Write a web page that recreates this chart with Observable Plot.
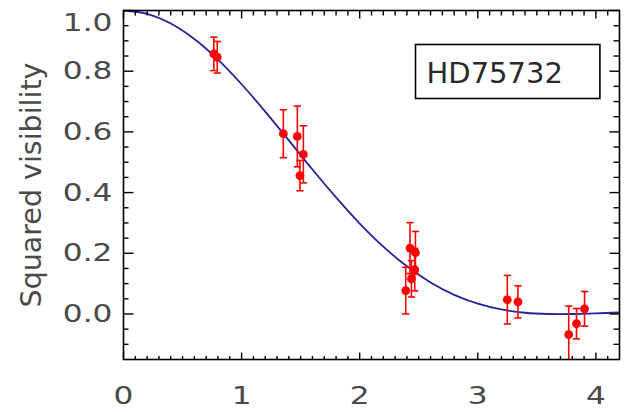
<!DOCTYPE html>
<html>
<head>
<meta charset="utf-8">
<script src="https://cdn.jsdelivr.net/npm/d3@7"></script>
<script src="https://cdn.jsdelivr.net/npm/@observablehq/plot@0.6"></script>
<style>
  html, body { margin: 0; padding: 0; background: #fff; }
  #chart svg { display: block; }
</style>
</head>
<body>
<div id="chart"></div>
<script>
// ---- data ----
const baseline = [0.765, 0.794, 1.353, 1.472, 1.523, 1.494, 2.39, 2.426, 2.472, 2.466, 2.438, 3.25, 3.34, 3.77, 3.836, 3.904];
const v2       = [0.857, 0.846, 0.594, 0.585, 0.526, 0.456, 0.077, 0.217, 0.202, 0.146, 0.116, 0.047, 0.040, -0.068, -0.032, 0.017];
const v2err    = [0.055, 0.052, 0.079, 0.100, 0.094, 0.050, 0.077, 0.084, 0.070, 0.070, 0.060, 0.080, 0.053, 0.094, 0.050, 0.057];

// model curve at regular steps
const modelX = [0, 0.2, 0.4, 0.6, 0.8, 1.0, 1.2, 1.4, 1.6, 1.8, 2.0, 2.2, 2.4, 2.6, 2.8, 3.0, 3.2, 3.4, 3.6, 3.8, 4.0, 4.2];
const modelY = [1.0, 0.989, 0.957, 0.906, 0.838, 0.757, 0.667, 0.572, 0.476, 0.384, 0.298, 0.222, 0.157, 0.104, 0.063, 0.034, 0.015, 0.004, 0.0, 0.0, 0.002, 0.005];

const xTicks = [0, 1, 2, 3, 4];
const xTickLabels = ["0", "1", "2", "3", "4"];
const yTicks = [0.0, 0.2, 0.4, 0.6, 0.8, 1.0];
const yTickLabels = ["0.0", "0.2", "0.4", "0.6", "0.8", "1.0"];
const starName = "HD75732";
const yLabel = "Squared visibility";

// ---- build tables ----
const points = baseline.map((x, i) => ({x, y: v2[i], e: v2err[i]}));
const model = modelX.map((x, i) => ({x, y: modelY[i]}));
const xMinor = d3.range(1, 42).map(d => d / 10).filter(d => Math.abs(d - Math.round(d)) > 1e-9);
const yMinor = d3.range(-2, 20).map(d => d * 0.05).filter(d => Math.abs(d * 5 - Math.round(d * 5)) > 1e-9);
const yLab = yTicks.map((t, i) => ({t, label: yTickLabels[i]}));
const xLab = xTicks.map((t, i) => ({t, label: xTickLabels[i]}));

// segment symbol for tick marks / error caps
const seg = (x1, y1, x2, y2) => ({draw(ctx) { ctx.moveTo(x1, y1); ctx.lineTo(x2, y2); }});

const font = "DejaVu Sans, sans-serif";
const grey = "#4a4a4a";
const tickStyle = {r: 3, stroke: "#000", strokeWidth: 1.4, fill: "none"};

const chart = Plot.plot({
  width: 642,
  height: 412,
  marginLeft: 123,
  marginRight: 23,
  marginTop: 10,
  marginBottom: 53,
  style: {fontFamily: font, background: "#fff", overflow: "visible"},
  x: {domain: [0, 4.2], axis: null},
  y: {domain: [-0.15, 1.0], axis: null},
  marks: [
    // model curve
    Plot.line(model, {x: "x", y: "y", curve: "catmull-rom", stroke: "#24249c", strokeWidth: 1.8, clip: true}),
    // error bars
    Plot.ruleX(points, {x: "x", y1: d => d.y - d.e, y2: d => d.y + d.e, stroke: "#f00", strokeWidth: 1.6, clip: true}),
    Plot.dot(points, {x: "x", y: d => d.y + d.e, symbol: seg(-3.6, 0, 3.6, 0), r: 3, stroke: "#f00", strokeWidth: 1.6, fill: "none", clip: true}),
    Plot.dot(points, {x: "x", y: d => d.y - d.e, symbol: seg(-3.6, 0, 3.6, 0), r: 3, stroke: "#f00", strokeWidth: 1.6, fill: "none", clip: true}),
    // data points
    Plot.dot(points, {x: "x", y: "y", r: 4.4, fill: "#f00", stroke: "none"}),
    // frame
    Plot.frame({stroke: "#000", strokeWidth: 1.6}),
    // ticks: left/right (major + minor)
    Plot.dot(yTicks, {y: d => d, frameAnchor: "left", symbol: seg(0, 0, 10, 0), ...tickStyle}),
    Plot.dot(yMinor, {y: d => d, frameAnchor: "left", symbol: seg(0, 0, 5, 0), ...tickStyle}),
    Plot.dot(yTicks, {y: d => d, frameAnchor: "right", symbol: seg(0, 0, -10, 0), ...tickStyle}),
    Plot.dot(yMinor, {y: d => d, frameAnchor: "right", symbol: seg(0, 0, -6, 0), ...tickStyle}),
    // ticks: bottom/top
    Plot.dot(xTicks, {x: d => d, frameAnchor: "bottom", symbol: seg(0, 0, 0, -7), ...tickStyle}),
    Plot.dot(xMinor, {x: d => d, frameAnchor: "bottom", symbol: seg(0, 0, 0, -3.5), ...tickStyle}),
    Plot.dot(xTicks, {x: d => d, frameAnchor: "top", symbol: seg(0, 0, 0, 8), ...tickStyle}),
    Plot.dot(xMinor, {x: d => d, frameAnchor: "top", symbol: seg(0, 0, 0, 5), ...tickStyle}),
    // y tick labels (top label sits below its tick, as in the original)
    Plot.text(yLab.filter(d => d.t < 1), {y: "t", text: "label", frameAnchor: "left", dx: -11, textAnchor: "end", lineAnchor: "middle", fontSize: 25, fill: grey, className: "widen"}),
    Plot.text(yLab.filter(d => d.t >= 1), {y: "t", text: "label", frameAnchor: "left", dx: -11, dy: 12.5, textAnchor: "end", lineAnchor: "middle", fontSize: 25, fill: grey, className: "widen"}),
    // x tick labels
    Plot.text(xLab, {x: "t", text: "label", frameAnchor: "bottom", dy: 27, lineAnchor: "top", fontSize: 25, fill: grey, className: "widen"}),
    // y axis label
    Plot.text([yLabel], {text: d => d, frameAnchor: "left", dx: -83, rotate: -90, textAnchor: "middle", lineAnchor: "bottom", fontSize: 28.5, fill: grey}),
    // star name
    Plot.text([starName], {text: d => d, frameAnchor: "top-right", dx: -193, dy: 72, textAnchor: "start", lineAnchor: "bottom", fontSize: 29, fill: "#2a2a2a", className: "starlabel"})
  ]
});

document.getElementById("chart").appendChild(chart);

// the original's tick-label font is wider than DejaVu: stretch horizontally about each anchor
chart.querySelectorAll(".widen text").forEach(el => {
  const tr = el.getAttribute("transform") || "";
  const x = el.getAttribute("x"), y = el.getAttribute("y");
  if (tr) el.setAttribute("transform", tr + " scale(1.25,1)");
  else {
    el.setAttribute("transform", `translate(${x || 0},${y || 0}) scale(1.25,1)`);
    el.removeAttribute("x"); el.removeAttribute("y");
  }
});

// box around the star name, sized from the rendered text
const t = chart.querySelector(".starlabel text");
if (t) {
  const b = t.getBBox();
  const sm = t.getScreenCTM(), rm = chart.getScreenCTM();
  const toSvg = (x, y) => {
    const p = chart.createSVGPoint(); p.x = x; p.y = y;
    return p.matrixTransform(sm).matrixTransform(rm.inverse());
  };
  const p0 = toSvg(b.x, b.y), p1 = toSvg(b.x + b.width, b.y + b.height);
  const rect = document.createElementNS("http://www.w3.org/2000/svg", "rect");
  rect.setAttribute("x", p0.x - 11);
  rect.setAttribute("y", p0.y - 11);
  rect.setAttribute("width", (p1.x - p0.x) + 11 + 37);
  rect.setAttribute("height", (p1.y - p0.y) + 11 + 9);
  rect.setAttribute("fill", "none");
  rect.setAttribute("stroke", "#000");
  rect.setAttribute("stroke-width", "1.6");
  chart.appendChild(rect);
}
</script>
</body>
</html>
